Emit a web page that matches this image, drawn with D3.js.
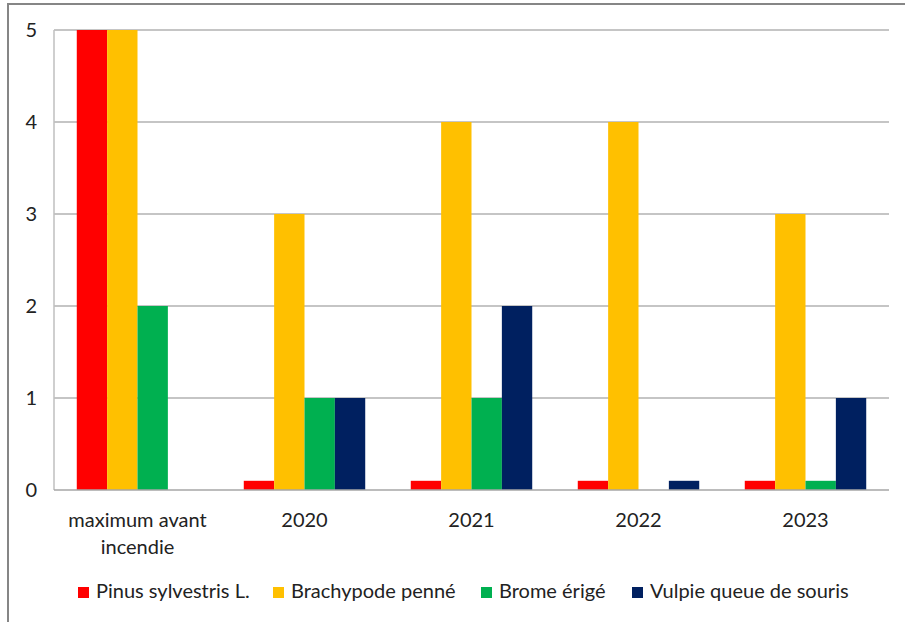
<!DOCTYPE html>
<html>
<head>
<meta charset="utf-8">
<script src="https://cdn.jsdelivr.net/npm/d3@7"></script>
<style>
  html, body { margin: 0; padding: 0; background: #fff; }
  svg { display: block; }
  text { font-family: Lato, "Open Sans", "Liberation Sans", sans-serif; fill: #222; }
</style>
</head>
<body>
<svg id="chart" width="905" height="622"></svg>
<script>
// Categories and series
const categories = [["maximum avant", "incendie"], ["2020"], ["2021"], ["2022"], ["2023"]];
const seriesNames = ["Pinus sylvestris L.", "Brachypode penné", "Brome érigé", "Vulpie queue de souris"];
const seriesColors = ["#ff0000", "#ffc000", "#00b050", "#002060"];
const pinus = [5, 0.1, 0.1, 0.1, 0.1];
const brachypode = [5, 3, 4, 4, 3];
const brome = [2, 1, 1, 0, 0.1];
const vulpie = [0, 1, 2, 0.1, 1];
const yTicks = [0, 1, 2, 3, 4, 5];

const seriesValues = [pinus, brachypode, brome, vulpie];

const svg = d3.select("#chart");
const fontSize = "20px";

// Outer frame
svg.append("rect")
  .attr("x", 8).attr("y", 4)
  .attr("width", 905).attr("height", 630)
  .attr("fill", "none").attr("stroke", "#868686").attr("stroke-width", 2);

const plot = { left: 54, right: 889, top: 30, bottom: 490 };

const x0 = d3.scaleBand()
  .domain(d3.range(categories.length))
  .range([plot.left, plot.right])
  .paddingInner(0).paddingOuter(0);

const barW = x0.bandwidth() / 5.5;
const x1 = d3.scaleBand()
  .domain(d3.range(seriesNames.length))
  .range([barW * 0.75, barW * 4.75])
  .padding(0);

const y = d3.scaleLinear().domain([0, 5]).range([plot.bottom, plot.top]);

// Gridlines
svg.append("g")
  .selectAll("line")
  .data(yTicks.filter(t => t > 0))
  .join("line")
  .attr("x1", plot.left).attr("x2", plot.right)
  .attr("y1", d => y(d)).attr("y2", d => y(d))
  .attr("stroke", "#8c8c8c").attr("stroke-width", 1.2);

// Bars
seriesValues.forEach((vals, si) => {
  svg.append("g")
    .selectAll("rect")
    .data(vals)
    .join("rect")
    .attr("x", (d, i) => x0(i) + x1(si))
    .attr("width", x1.bandwidth())
    .attr("y", d => y(d))
    .attr("height", d => y(0) - y(d))
    .attr("fill", seriesColors[si]);
});

// Axis lines
svg.append("line")
  .attr("x1", plot.left).attr("x2", plot.left)
  .attr("y1", plot.top).attr("y2", plot.bottom)
  .attr("stroke", "#bfbfbf").attr("stroke-width", 1.5);
svg.append("line")
  .attr("x1", plot.left).attr("x2", plot.right)
  .attr("y1", plot.bottom).attr("y2", plot.bottom)
  .attr("stroke", "#a6a6a6").attr("stroke-width", 1.5);

// Y axis labels
const yAxis = d3.axisLeft(y).tickValues(yTicks).tickSize(0).tickPadding(17).tickFormat(d3.format("d"));
const ya = svg.append("g").attr("transform", `translate(${plot.left},0)`).call(yAxis);
ya.select(".domain").remove();
ya.selectAll("text").style("font-size", fontSize).style("font-family", "Lato, sans-serif").attr("fill", "#222");

// Category labels
const catG = svg.append("g");
categories.forEach((lines, i) => {
  const cx = x0(i) + x0.bandwidth() / 2;
  const t = catG.append("text")
    .attr("x", cx)
    .attr("y", 527)
    .attr("text-anchor", "middle")
    .style("font-size", fontSize);
  lines.forEach((ln, j) => {
    t.append("tspan")
      .attr("x", cx)
      .attr("dy", j === 0 ? 0 : 27)
      .text(ln);
  });
});

// Legend
const legendX = [78, 273, 481, 632];
const leg = svg.append("g");
seriesNames.forEach((name, i) => {
  leg.append("rect")
    .attr("x", legendX[i]).attr("y", 587)
    .attr("width", 11).attr("height", 11)
    .attr("fill", seriesColors[i]);
  leg.append("text")
    .attr("x", legendX[i] + 18).attr("y", 598)
    .style("font-size", fontSize)
    .text(name);
});
</script>
</body>
</html>
